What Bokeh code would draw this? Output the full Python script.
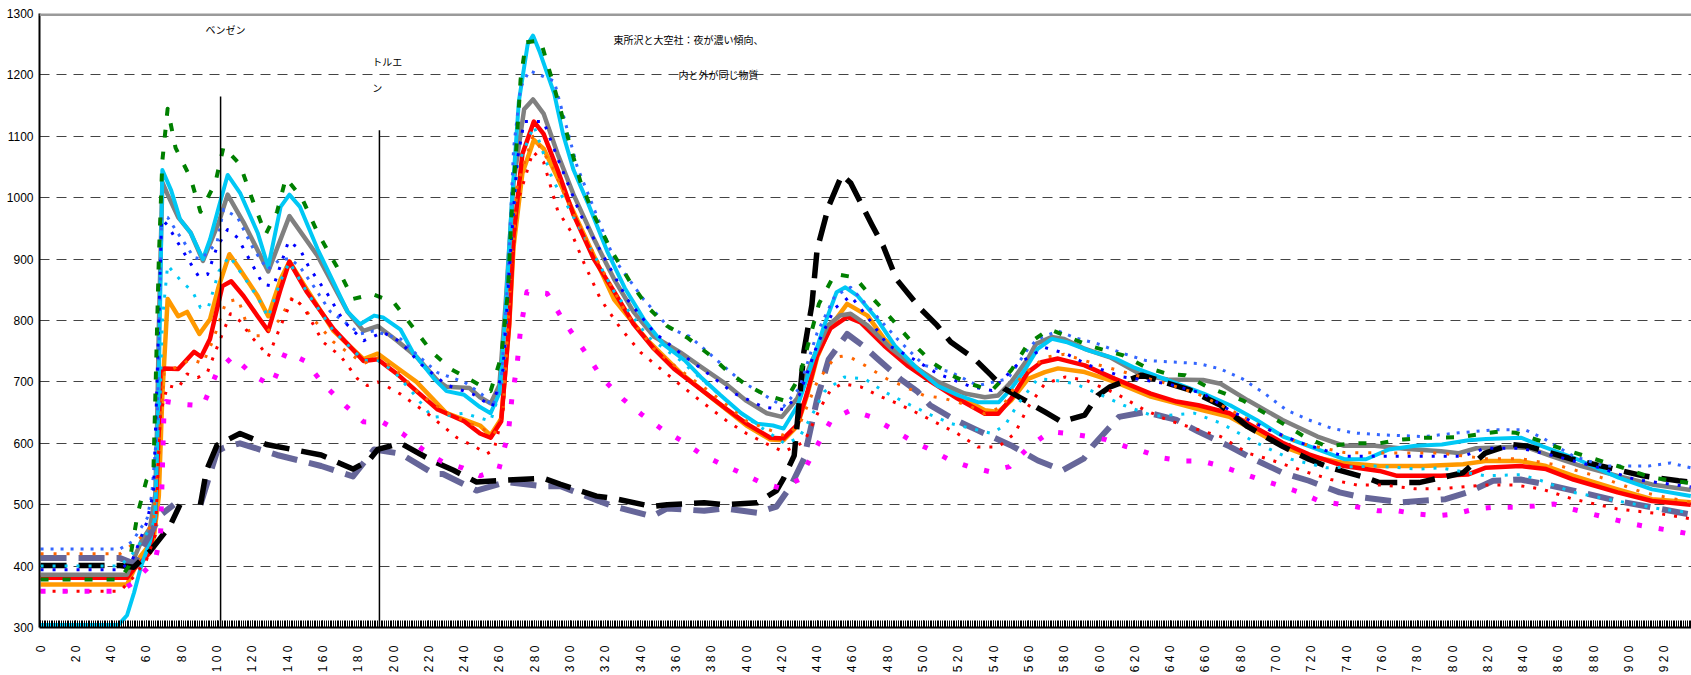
import math
from bokeh.plotting import figure
from bokeh.models import Range1d, SingleIntervalTicker, FixedTicker, Span, CustomJSTickFormatter
from bokeh.core.properties import value
from bokeh.embed import file_html
from bokeh.resources import INLINE

NAN = float("nan")

# ---- axis ticks ----
y_ticks = list(range(300, 1301, 100))
x_label_step = 20

# ---- series (x index, value) ----
cyan_pts = [(0,304),(44,304),(49,320),(53,357),(57,400),(62,440),(65,480),(67,700),(69,1045),(74,1012),(79,965),(85,943),(92,900),(96,932),(101,985),(106,1037),(113,1008),(123,943),(129,887),(136,985),(141,1005),(147,985),(157,916),(166,862),(174,814),(181,794),(189,808),(194,805),(204,785),(211,748),(223,705),(230,685),(240,679),(249,659),(255,649),(260,682),(263,794),(267,992),(271,1157),(276,1250),(279,1264),(283,1236),(291,1170),(296,1104),(302,1045),(310,992),(321,913),(331,853),(342,801),(353,761),(365,735),(374,708),(385,679),(397,649),(406,632),(415,629),(421,624),(429,662),(436,721),(444,792),(451,846),(456,854),(463,840),(474,802),(484,759),(497,721),(508,694),(520,678),(531,667),(543,667),(550,689),(558,721),(565,754),(573,770),(581,765),(594,751),(609,738),(619,724),(644,697),(659,681),(674,662),(689,638),(704,611),(719,595),(739,574),(751,574),(764,590),(779,596),(794,598),(809,605),(819,607),(839,609),(851,595),(869,576),(894,544),(913,525),(935,514)]

gray_pts = [(0,386),(49,386),(57,440),(62,462),(65,516),(66,624),(67,786),(69,1025),(72,1005),(78,968),(85,943),(92,897),(101,960),(106,1005),(115,960),(129,880),(141,970),(157,905),(174,814),(183,783),(191,791),(202,767),(213,741),(225,702),(230,692),(243,690),(249,675),(255,665),(260,695),(263.5,827),(268,1025),(274,1144),(279,1160),(285,1137),(293,1071),(302,1005),(313.5,933),(325,867),(336,814),(347.5,774),(362.5,748),(374,725),(389,695),(400,669),(411.5,649),(420,643),(428.7,673),(436,727),(446,792),(453,808),(459,811),(468.5,792),(482,754),(497,721),(508.5,700),(523.6,681),(535,675),(542.6,678),(550,700),(559.5,738),(564,762),(572.8,773),(580,770),(591.5,754),(606,740),(624,711),(638.6,704),(658.7,703),(668.6,697),(684,670),(703.7,638),(723.5,611),(738.6,596),(756,596),(773,591),(793.5,587),(803.6,584),(813.5,592),(833.5,594),(843.4,592),(856,579),(873,563),(893.5,547),(913,533),(935,524)]

orange_pts = [(0,370),(49,370),(56.6,416),(64,443),(67,514),(69,678),(72,835),(78,807),(83,814),(90,778),(96,802),(101,856),(107,908),(113,883),(123,840),(129,807),(136,867),(141,896),(151,850),(166,783),(183,737),(191,746),(202,723),(213,700),(230,649),(249,629),(255,613),(261,640),(265.5,790),(268,920),(273,1040),(279.5,1094),(285,1080),(293,1032),(306,952),(325,834),(343.8,768),(362.5,715),(381,672),(400,629),(413.5,606),(421,605),(428.7,628),(434.5,680),(440,740),(447.5,790),(457,827),(468.5,808),(478,770),(491,735),(504.6,705),(519.5,678),(535,654),(542.6,651),(550,670),(559.5,705),(569,716),(576.5,722),(591.6,716),(608.8,700),(629,676),(643.6,665),(658,654),(673.6,643),(688.7,619),(703.7,595),(718.6,579),(738.6,568),(758.6,563),(783.6,563),(806,566),(818.5,571),(838.5,571),(853,563),(868.5,547),(893.5,525),(913,509),(935,504)]

red_pts = [(0,381),(49,381),(52.8,395),(58.5,411),(62,422),(65,481),(67,624),(68,716),(70,722),(78,721),(87,749),(91,741),(96,770),(103,856),(108,864),(115,840),(123,807),(129,783),(136,851),(141,896),(151,846),(166,786),(183,734),(191,737),(202,713),(213,685),(225,655),(240,636),(249,616),(255,609),(261,636),(265.5,794),(268,939),(273,1071),(279.5,1124),(285,1104),(293,1045),(302,972),(313.5,900),(325,847),(336,794),(347.5,754),(359,721),(374,688),(389,655),(400,632),(413.5,609),(421,608),(428.7,630),(434.5,684),(440,743),(447.5,787),(457,806),(464.6,797),(478,759),(491,727),(504.6,700),(519.5,673),(535,648),(542.6,648),(550,673),(559.5,716),(567,732),(576.5,738),(591.6,727),(608.8,705),(629,681),(643.6,668),(656,662),(673.6,649),(688.7,625),(703.7,601),(718.6,582),(738.6,563),(758.6,555),(768.6,547),(793.5,547),(808.5,549),(818.5,560),(838.5,563),(853,558),(868.5,541),(893.5,520),(913,506),(935,500)]

green_pts = [(0,378),(45,378),(50,400),(55,485),(60,540),(64,560),(67,900),(69,1060),(72,1145),(76.5,1081),(85,1032),(90.6,977),(99,1024),(103.7,1083),(113,1054),(120,997),(127.5,940),(134,977),(139,1032),(148,1000),(157,943),(168,887),(177,835),(188,843),(200,830),(211.5,787),(222,748),(232.5,721),(255,685),(261,741),(264.8,847),(266.6,962),(269.5,1078),(272,1193),(275,1253),(283.3,1256),(289,1200),(294.8,1141),(300,1085),(306,1025),(313.5,972),(323,916),(334,863),(344.6,820),(355,791),(367,771),(378.6,745),(389,718),(400,695),(410.6,679),(422,669),(430,708),(441,827),(450,876),(461.4,870),(472.8,832),(483,800),(494.5,762),(505,732),(516,711),(526.6,697),(539,686),(550,719),(559.5,762),(571.5,786),(581,775),(594,759),(613.6,743),(626,724),(638.6,713),(648.6,711),(661,692),(681,670),(698.7,641),(716,611),(728.6,595),(743.6,600),(758.6,600),(771,606),(783.6,609),(803.6,610),(826,619),(836,617),(848.5,605),(861,592),(881,574),(893.5,563),(913,544),(935,535)]

royal_pts = [(0,428),(45,428),(52,440),(60.4,478),(63,516),(66,624),(68.6,970),(72,968),(77.6,943),(81,929),(86.7,903),(91,900),(100,927),(103.7,981),(111.6,968),(120.7,916),(128.6,883),(136,900),(141.6,900),(147,887),(154.7,856),(164,815),(171.7,799),(181,778),(188.7,783),(198,775),(204,770),(213,745),(225,715),(240,700),(250,680),(256,660),(261,700),(265,880),(268,1080),(272,1180),(277,1207),(291,1190),(304,1051),(325,900),(341.8,834),(356.5,787),(367.8,774),(396.6,702),(415.5,669),(421,660),(430,690),(440,780),(450,840),(459,854),(485.4,770),(500.6,727),(515.7,716),(531,694),(548,705),(559.5,754),(565,770),(576.5,783),(586,772),(599,762),(613.6,746),(626,735),(643.6,732),(656,730),(668.6,721),(681,705),(693.6,681),(706,654),(718.6,638),(731,625),(743.6,617),(758.6,614),(783.6,611),(803.6,617),(823.5,622),(841,622),(851,609),(868.5,579),(886,563),(898.5,563),(911,563),(923.5,568),(935,560)]

blue_pts = [(0,394),(45,394),(52,410),(60,470),(64,520),(66,700),(68.6,965),(72,955),(79,921),(89.5,872),(94.6,875),(100,920),(106,948),(111.6,935),(126,859),(132,856),(140.5,929),(147,916),(152,887),(162.6,843),(171.7,799),(183,767),(194,781),(204,765),(215,730),(230,695),(245,680),(256,660),(262,720),(266,900),(270,1060),(274,1124),(285,1124),(294.8,1051),(306,972),(317.4,913),(332.5,834),(347.5,781),(362,748),(377.5,715),(392.6,682),(409.6,659),(421,655),(430,679),(440,760),(450,820),(459,840),(470,800),(480,760),(493,740),(508.5,713),(527.5,692),(539,686),(554,730),(569,756),(581,746),(594,727),(613.6,708),(638.6,697),(658.7,681),(673.6,654),(693.6,625),(713.6,601),(738.6,579),(763.6,579),(788.6,579),(806,579),(818.5,592),(838.5,592),(858.5,579),(883.5,560),(903.5,541),(935,529)]

skydot_pts = [(0,400),(45,400),(52,420),(58,444),(64,470),(67,600),(69,800),(72,890),(75.5,878),(80.4,862),(86,848),(90.6,821),(95,821),(101,880),(107,905),(113,880),(123,838),(129,805),(136,865),(141,895),(151,846),(166,783),(183,735),(191,735),(200,718),(211,682),(222,642),(240,649),(255,636),(262,700),(266,900),(270,1050),(279.5,1117),(290,1030),(300,979),(325,847),(344,774),(362.5,735),(381,688),(400,642),(422,599),(430,610),(436,640),(444,684),(455.5,708),(467,705),(478,684),(493,662),(504.6,646),(516,632),(527.5,624),(539,616),(546.6,630),(554,665),(565,705),(574,703),(586,697),(599,681),(613.6,662),(631,644),(653.6,649),(668.6,633),(688.7,601),(708.6,574),(728.6,560),(756,563),(781,558),(793.5,560),(818.5,547),(838.5,549),(848.5,541),(868.5,520),(893.5,506),(918,493),(935,487)]

orangedot_pts = [(0,420),(45,420),(52,435),(58,450),(64,470),(67,600),(70,715),(78,725),(85,737),(92,730),(98,770),(105,830),(112,835),(119,775),(126,775),(135,800),(143,840),(151,814),(166,765),(183,730),(192,740),(204,712),(215,680),(230,650),(249,625),(257,615),(262,650),(266,850),(270,1020),(279,1100),(290,1050),(300,985),(315,900),(332,811),(347.5,754),(362,720),(381,680),(400,636),(422,612),(430,630),(440,700),(450,740),(457,743),(467,727),(479.5,705),(500.6,678),(512,673),(525.6,662),(535,648),(545,660),(556,710),(569,740),(580,745),(599,728),(624,708),(638.6,697),(656,680),(673.6,655),(693.6,625),(713.6,600),(738.6,585),(768.6,584),(793.5,584),(818.5,575),(838.5,575),(858.5,565),(883.5,545),(908,520),(935,504)]

reddot_pts = [(0,359),(45,359),(52,380),(60,410),(65,450),(68,650),(72,694),(78,690),(83,713),(89,707),(94.6,716),(99,749),(107.6,811),(113,799),(119,775),(124.6,757),(129,741),(136,791),(143,838),(149,822),(155,791),(160,765),(170,742),(179.6,705),(185,694),(191,700),(196.6,692),(204,680),(219,649),(236,609),(247,593),(253,583),(257,590),(262,650),(266,850),(270,990),(279,1075),(285,1058),(293,979),(300.3,946),(308,893),(317.4,834),(328.7,787),(340,748),(351.4,721),(362.5,695),(374,669),(389,636),(400,616),(411.5,599),(421,586),(432.6,602),(442,659),(447.5,686),(454,697),(464.6,692),(476,676),(485.4,665),(497,649),(508.5,632),(519.5,616),(531,594),(542.6,594),(552,616),(559.5,659),(569,697),(580.6,708),(592,703),(610,680),(625,655),(638.6,638),(656,622),(668.6,611),(684,584),(696,574),(718.6,552),(731,541),(746,532),(761,532),(778.5,526),(793.5,526),(818.5,532),(836,532),(851,525),(868.5,509),(893.5,493),(918,485),(935,477)]

magenta_pts = [(0,359),(45,359),(52,372),(60,395),(65,410),(68,451),(70,660),(71,668),(82,663),(92,661),(100,716),(109,742),(120.7,710),(131,694),(139,749),(150,734),(160,697),(172.8,661),(183,635),(194,634),(205,616),(216.5,590),(227.5,570),(239,560),(249,547),(259.6,557),(265,616),(267,672),(270,728),(272,787),(275.6,847),(287,844),(296,801),(308,751),(318.5,705),(330,672),(341,646),(352.5,622),(363.9,603),(374,583),(385.8,566),(396,553),(407.6,537),(419,527),(430,541),(438.6,589),(448,638),(459,654),(470.5,643),(482,624),(493,605),(504.6,589),(515,573),(526,562),(537.5,554),(549,562),(560,594),(572,619),(582.7,616),(594,611),(603.6,606),(614.6,595),(624.6,587),(635.8,576),(647,571),(658,571),(668.6,563),(679.8,552),(691,541),(702,531),(713.6,520),(724.5,506),(735.6,501),(746.8,496),(758,490),(769,490),(779,485),(791.5,482),(801.5,485),(812.8,493),(824,496),(835,496),(846.4,498),(857.6,501),(867.6,493),(878.8,485),(890,477),(901.3,469),(912.5,463),(923.8,458),(935,452)]

black_pts = [(0,401),(45,401),(52.8,398),(62,424),(68,446),(73.6,467),(79,500),(85,NAN),(90.6,500),(94,556),(100,597),(113,616),(128,598),(159,581),(177,558),(186,572),(191,590),(204,600),(223,570),(234,556),(247,537),(264,540),(285,543),(294.6,533),(315,514),(325,510),(346.6,497),(355,500),(376,503),(387,500),(406,503),(417,523),(421,543),(427,580),(432.5,749),(437,825),(440,916),(446.5,986),(454,1037),(459,1024),(471,956),(477.5,921),(485,867),(498.6,819),(508,792),(515.7,765),(529,738),(538.5,711),(546,689),(559.5,667),(569,651),(578.5,635),(591.6,646),(599,678),(606,692),(624,711),(651,687),(668.6,662),(684,627),(703.7,595),(718.6,574),(731,560),(751,544),(758.6,536),(781,536),(806,552),(818.5,584),(833.5,598),(843,595),(868,574),(908,547),(928,539),(935,537)]

slate_pts = [(0,413),(45,413),(52.8,404),(64,462),(68,483),(75.5,500),(83,NAN),(90.6,500),(100,587),(104,593),(113,600),(134,581),(159,563),(177,546),(189,590),(204,583),(223,550),(228,550),(247,523),(264,537),(285,530),(294.6,530),(315.4,507),(325,497),(346.6,481),(355,494),(376,490),(387,494),(406,487),(417,497),(425,530),(432.6,575),(440,672),(446.6,737),(457,778),(466,759),(474,738),(487,705),(497,684),(504,662),(517,640),(531,621),(549.6,597),(565,572),(579,556),(591,575),(596,595),(611,643),(626,651),(643.6,638),(656,619),(673.6,595),(684,579),(703.7,552),(718.6,539),(736,520),(748.6,512),(771,504),(796,509),(808.5,520),(823,539),(838.5,541),(853,533),(868.5,523),(893.5,506),(918,493),(935,484)]

# reference vertical markers and notes
marker_x = [102, 192]
marker_top = [1165, 1110]
notes_text = ["ベンゼン", "トルエ", "ン", "東所沢と大空社：夜が濃い傾向、", "内と外が同じ物質"]
notes_x = [93.5, 188, 188, 324.6, 361.5]
notes_y = [1274, 1222, 1180, 1257, 1201]

LAT = "Liberation Sans Narrow, Liberation Sans, sans-serif"

p = figure(width=1691, height=675, output_backend="svg", toolbar_location=None,
           x_range=Range1d(-0.6, 935.4), y_range=Range1d(300, 1300),
           min_border_left=39, min_border_right=0, min_border_top=13, min_border_bottom=45)
p.outline_line_color = None
p.background_fill_color = "white"
p.border_fill_color = "white"

p.xgrid.grid_line_color = None
p.ygrid.ticker = FixedTicker(ticks=y_ticks[1:-1])
p.ygrid.grid_line_color = "#444444"
p.ygrid.grid_line_dash = "10 7"
p.ygrid.grid_line_width = 1

p.yaxis.ticker = FixedTicker(ticks=y_ticks)
p.yaxis.major_label_text_font = LAT
p.yaxis.major_label_text_font_size = "12px"
p.yaxis.major_label_text_color = "black"
p.yaxis.major_tick_out = 0
p.yaxis.major_tick_in = 0
p.yaxis.minor_tick_out = 0
p.yaxis.minor_tick_in = 0
p.yaxis.major_label_standoff = 6
p.yaxis.axis_line_width = 2
p.yaxis.axis_line_color = "black"

p.xaxis.ticker = SingleIntervalTicker(interval=x_label_step, num_minor_ticks=x_label_step)
p.xaxis.formatter = CustomJSTickFormatter(code="return String(Math.round(tick)).split('').join(' ');")
p.xaxis.major_label_orientation = math.pi / 2
p.xaxis.major_label_text_font = LAT
p.xaxis.major_label_text_font_size = "12px"
p.xaxis.major_label_text_color = "black"
p.xaxis.major_label_standoff = 18
p.xaxis.major_tick_in = 7
p.xaxis.major_tick_out = 0
p.xaxis.minor_tick_in = 7
p.xaxis.minor_tick_out = 0
p.xaxis.minor_tick_line_color = "black"
p.xaxis.major_tick_line_color = "black"
p.xaxis.axis_line_width = 2
p.xaxis.axis_line_color = "black"

p.add_layout(Span(location=1300, dimension="width", line_color="#9a9a9a", line_width=5))


def draw(pts, color, width, dash="solid"):
    xs = [a for a, b in pts]
    ys = [b for a, b in pts]
    p.line(xs, ys, line_color=color, line_width=width, line_dash=dash,
           line_cap="butt", line_join="round")


draw(orange_pts, "#FF9900", 4.5)
draw(red_pts, "#FF0000", 4.5)
draw(gray_pts, "#808080", 4.5)
draw(cyan_pts, "#00C8F5", 4)
draw(slate_pts, "#666699", 6, "26 12")
draw(black_pts, "#000000", 5.5, "26 12")
draw(skydot_pts, "#00C8F5", 3, "3 9")
draw(orangedot_pts, "#FF6600", 3, "3 10")
draw(reddot_pts, "#FF0000", 3, "3 9")
draw(magenta_pts, "#FF00FF", 5, "5 17")
draw(royal_pts, "#3366FF", 3, "3 7")
draw(blue_pts, "#0000FF", 3, "3 9")
draw(green_pts, "#008000", 4, "8 14")

p.segment(x0=marker_x, y0=[y_ticks[0]] * len(marker_x), x1=marker_x, y1=marker_top,
          line_color="black", line_width=1.5)

p.text(x=notes_x, y=notes_y, text=notes_text, text_font=value("Noto Sans CJK JP"),
       text_font_size="10px", text_baseline="middle", text_align="left", text_color="black")

open("out.html", "w").write(file_html(p, INLINE))
